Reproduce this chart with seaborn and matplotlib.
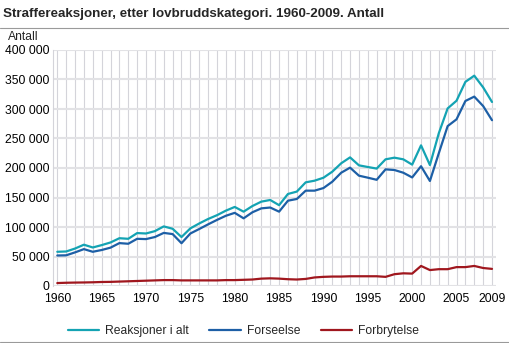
import matplotlib
matplotlib.use("Agg")
import matplotlib.pyplot as plt
import matplotlib.lines as mlines
from matplotlib.ticker import FuncFormatter, FixedLocator, MultipleLocator
import seaborn as sns
import pandas as pd

years = list(range(1960, 2010))

reaksjoner = [58000, 58500, 63500, 70000, 65300, 69300, 73800, 81000, 80000, 89700,
              89000, 93000, 101000, 97000, 83000, 97700, 106000, 113600, 120000, 127700,
              134000, 126000, 135600, 143000, 145800, 137000, 156000, 160000, 175700, 178500,
              183500, 193800, 208000, 218000, 204500, 201700, 199000, 214700, 217500, 214700,
              205700, 238400, 205000, 258800, 301000, 314000, 346000, 356500, 336700, 311900]

forseelse = [51700, 52000, 57000, 62500, 58000, 61000, 65000, 72700, 71600, 80000,
             79500, 83000, 90000, 88000, 72500, 89000, 96600, 104500, 112000, 119000,
             124000, 114700, 125000, 131600, 133000, 126000, 144600, 147500, 161600, 161600,
             166000, 176800, 192000, 200600, 187000, 183600, 180000, 197700, 196600, 192000,
             184000, 203000, 178000, 224900, 271000, 282500, 313600, 321000, 305000, 281000]

forbrytelse = [5000, 5500, 5800, 6000, 6300, 6800, 7000, 7500, 8000, 8500,
               9000, 9500, 10000, 10000, 9500, 9500, 9500, 9500, 9500, 10000,
               10000, 10500, 11000, 12500, 13000, 12500, 11500, 11000, 12000, 14500,
               15500, 16000, 16000, 16500, 16500, 16500, 16500, 15500, 20000, 21500,
               21000, 34000, 27000, 28500, 28500, 32000, 32000, 34000, 30500, 29000]

series_names = ["Reaksjoner i alt", "Forseelse", "Forbrytelse"]
colors = ["#14a3b3", "#1d5fa6", "#a0171e"]
xtick_years = [1960, 1965, 1970, 1975, 1980, 1985, 1990, 1995, 2000, 2005, 2009]
title = "Straffereaksjoner, etter lovbruddskategori. 1960-2009. Antall"
ylabel = "Antall"

df = pd.DataFrame({
    "year": years * 3,
    "value": reaksjoner + forseelse + forbrytelse,
    "serie": [series_names[0]] * 50 + [series_names[1]] * 50 + [series_names[2]] * 50,
})

sns.set_theme(style="white")
plt.rcParams["font.family"] = ["Liberation Sans", "DejaVu Sans"]

fig = plt.figure(figsize=(5.10, 3.43), dpi=100)
ax = fig.add_axes([53.3 / 510, 1 - 286 / 343, (496 - 53.3) / 510, (286 - 50) / 343])

sns.lineplot(data=df, x="year", y="value", hue="serie", palette=colors,
             hue_order=series_names, linewidth=1.6, ax=ax, legend=False)

ax.set_xlim(1959.55, 2009.45)
ax.set_ylim(0, 400000)
ax.xaxis.set_major_locator(FixedLocator(xtick_years))
ax.xaxis.set_minor_locator(MultipleLocator(1))
ax.yaxis.set_major_locator(MultipleLocator(50000))
ax.yaxis.set_major_formatter(FuncFormatter(lambda v, p: f"{int(v):,}".replace(",", " ")))
ax.grid(which="minor", axis="x", color="#d4d4da", linewidth=0.8)
ax.grid(which="major", axis="x", color="#d4d4da", linewidth=0.8)
ax.grid(which="major", axis="y", color="#e2e2e5", linewidth=1.5)
ax.set_axisbelow(True)
for s in ["top", "right", "bottom"]:
    ax.spines[s].set_visible(False)
ax.spines["left"].set_color("#d4d4da")
ax.spines["left"].set_linewidth(0.8)
ax.tick_params(axis="both", which="both", length=0, labelsize=8.7, colors="#000000", pad=3)
ax.tick_params(axis="x", pad=5)
ax.set_xlabel("")
ax.set_ylabel("")

fig.text(3 / 510, 1 - 14 / 343, title, fontsize=9.65, fontweight="bold", va="center", ha="left")
fig.text(8 / 510, 1 - 37 / 343, ylabel, fontsize=8.7, va="center", ha="left")
fig.add_artist(mlines.Line2D([0, 1], [1 - 27.5 / 343, 1 - 27.5 / 343], color="#9a9a9a", linewidth=0.8))
fig.add_artist(mlines.Line2D([0, 1], [1 - 342 / 343, 1 - 342 / 343], color="#9a9a9a", linewidth=0.8))

handles = [mlines.Line2D([], [], color=c, linewidth=1.6) for c in colors]
fig.legend(handles, series_names, loc="center", bbox_to_anchor=(243.5 / 510, 1 - 331 / 343),
           ncol=3, frameon=False, fontsize=8.7, handlelength=2.6, handletextpad=0.5,
           columnspacing=1.7, borderpad=0)

fig.savefig("out.png", dpi=100)
